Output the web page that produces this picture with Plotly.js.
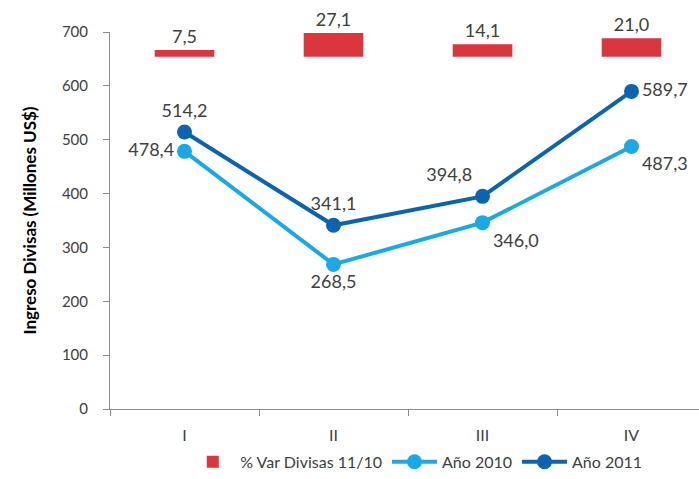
<!DOCTYPE html>
<html>
<head>
<meta charset="utf-8">
<script src="https://cdn.plot.ly/plotly-3.0.1.min.js"></script>
<style>html,body{margin:0;padding:0;background:#fff}#chart{width:699px;height:479px}</style>
</head>
<body>
<div id="chart"></div>
<script>
const categories = ["I", "II", "III", "IV"];
const varDivisas = [7.5, 27.1, 14.1, 21.0];
const anio2010 = [478.4, 268.5, 346.0, 487.3];
const anio2011 = [514.2, 341.1, 394.8, 589.7];
const yTicks = [0, 100, 200, 300, 400, 500, 600, 700];

const fam = "Lato, 'Open Sans', sans-serif";
const txt = {family: fam, size: 16, color: "#404040"};
const lbl = {family: fam, size: 18, color: "#404040"};

const traces = [
  {
    type: "bar", x: categories, y: varDivisas, yaxis: "y2",
    name: "% Var Divisas 11/10",
    marker: {color: "#D9363E"}, width: 0.4,
    texttemplate: "%{y:.1f}", textposition: "outside", cliponaxis: false,
    textfont: lbl
  },
  {
    type: "scatter", mode: "lines+markers+text", x: categories, y: anio2010,
    name: "Año 2010",
    line: {color: "#1BA9E6", width: 4}, marker: {color: "#1BA9E6", size: 15},
    texttemplate: "%{y:.1f}",
    textposition: ["middle left", "bottom center", "bottom right", "bottom right"],
    textfont: lbl, cliponaxis: false
  },
  {
    type: "scatter", mode: "lines+markers+text", x: categories, y: anio2011,
    name: "Año 2011",
    line: {color: "#0B64AF", width: 4}, marker: {color: "#0B64AF", size: 15},
    texttemplate: "%{y:.1f}",
    textposition: ["top center", "top center", "top left", "middle right"],
    textfont: lbl, cliponaxis: false
  }
];

const layout = {
  width: 699, height: 479,
  margin: {l: 110, r: 0, t: 32, b: 65},
  paper_bgcolor: "#fff", plot_bgcolor: "#fff",
  separators: ",.",
  font: txt,
  showlegend: true,
  legend: {orientation: "h", x: 0.52, xanchor: "center", y: -0.14, yanchor: "middle",
           font: {family: fam, size: 16, color: "#404040"}, traceorder: "normal",
           itemwidth: 45},
  xaxis: {
    type: "category", range: [-0.5, 3.453],
    showline: true, linecolor: "#8c8c8c", linewidth: 1,
    tickson: "boundaries", ticks: "outside", ticklen: 6, tickcolor: "#8c8c8c",
    ticklabelstandoff: 12,
    showgrid: false, zeroline: false, tickfont: txt
  },
  yaxis: {
    range: [0, 700], tickvals: yTicks,
    showline: true, linecolor: "#8c8c8c", linewidth: 1,
    ticks: "outside", ticklen: 6, tickcolor: "#8c8c8c",
    ticklabelstandoff: 12,
    showgrid: false, zeroline: false, tickfont: {family: fam, size: 15, color: "#404040"},
    title: {text: "<b>Ingreso Divisas (Millones US$)</b>", font: {family: fam, size: 17, color: "#000"}, standoff: 20}
  },
  yaxis2: {
    overlaying: "y", range: [-403, 28.2], visible: false, showgrid: false, zeroline: false
  }
};

Plotly.newPlot("chart", traces, layout, {displayModeBar: false, staticPlot: true});
</script>
</body>
</html>
